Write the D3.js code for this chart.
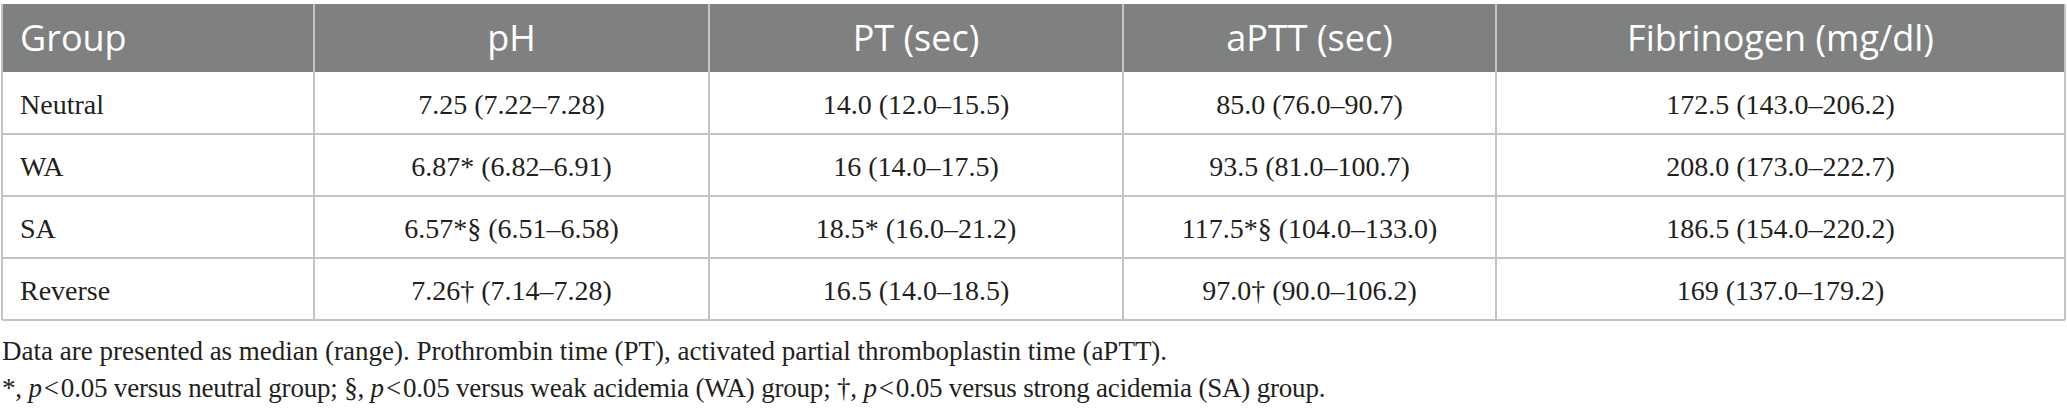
<!DOCTYPE html>
<html>
<head>
<meta charset="utf-8">
<script src="https://cdn.jsdelivr.net/npm/d3@7"></script>
<style>
  body { margin: 0; background: #fff; }
</style>
</head>
<body>
<div id="chart-area"></div>
<script>
// table content
var headers = ["Group", "pH", "PT (sec)", "aPTT (sec)", "Fibrinogen (mg/dl)"];
var groups = ["Neutral", "WA", "SA", "Reverse"];
var phValues = ["7.25 (7.22–7.28)", "6.87* (6.82–6.91)", "6.57*§ (6.51–6.58)", "7.26† (7.14–7.28)"];
var ptValues = ["14.0 (12.0–15.5)", "16 (14.0–17.5)", "18.5* (16.0–21.2)", "16.5 (14.0–18.5)"];
var apttValues = ["85.0 (76.0–90.7)", "93.5 (81.0–100.7)", "117.5*§ (104.0–133.0)", "97.0† (90.0–106.2)"];
var fibValues = ["172.5 (143.0–206.2)", "208.0 (173.0–222.7)", "186.5 (154.0–220.2)", "169 (137.0–179.2)"];
var note1 = "Data are presented as median (range). Prothrombin time (PT), activated partial thromboplastin time (aPTT).";

var width = 2067, height = 412;
var colEdges = [2, 314, 709, 1123, 1496, 2065];
var headTop = 4, headBottom = 72, tableBottom = 320;

var svg = d3.select("#chart-area")
    .append("svg")
        .attr("width", width)
        .attr("height", height);

// rows
var y = d3.scaleBand()
    .domain(groups)
    .range([headBottom, tableBottom]);

var rows = groups.map(function(g, i) {
    return [g, phValues[i], ptValues[i], apttValues[i], fibValues[i]];
});

var cellX = function(d, i){ return i == 0 ? colEdges[0] + 18 : (colEdges[i] + colEdges[i+1]) / 2; };
var cellAnchor = function(d, i){ return i == 0 ? "start" : "middle"; };

// header band
svg.append("rect")
    .attr("x", colEdges[0])
    .attr("y", headTop)
    .attr("width", colEdges[5] - colEdges[0])
    .attr("height", headBottom - headTop)
    .attr("fill", "#7f8080");

svg.selectAll(".head")
    .data(headers)
    .enter().append("text")
    .attr("class", "head")
    .attr("x", cellX)
    .attr("y", (headTop + headBottom) / 2)
    .attr("dy", "0.36em")
    .attr("text-anchor", cellAnchor)
    .attr("font-family", "'Open Sans', sans-serif")
    .attr("font-size", "36px")
    .attr("fill", "#fff")
    .text(function(d){ return d; });

// grid lines
var lineColor = "#c4c4c4";
svg.selectAll(".hline")
    .data(groups.slice(1).concat(["_end"]))
    .enter().append("line")
    .attr("x1", colEdges[0]).attr("x2", colEdges[5])
    .attr("y1", function(d){ return d == "_end" ? tableBottom : y(d); })
    .attr("y2", function(d){ return d == "_end" ? tableBottom : y(d); })
    .attr("stroke", lineColor)
    .attr("stroke-width", 2);

svg.selectAll(".vline")
    .data(colEdges)
    .enter().append("line")
    .attr("x1", function(d){ return d; }).attr("x2", function(d){ return d; })
    .attr("y1", headTop).attr("y2", tableBottom)
    .attr("stroke", lineColor)
    .attr("stroke-width", 2);

// cells
var rowG = svg.selectAll(".row")
    .data(rows)
    .enter().append("g")
    .attr("transform", function(d){ return "translate(0," + (y(d[0]) + y.bandwidth() / 2) + ")"; });

rowG.selectAll("text")
    .data(function(d){ return d; })
    .enter().append("text")
    .attr("x", cellX)
    .attr("dy", "0.38em")
    .attr("text-anchor", cellAnchor)
    .attr("font-family", "'Liberation Serif', serif")
    .attr("font-size", "28px")
    .attr("fill", "#231f20")
    .text(function(d){ return d; });

// footnotes
svg.append("text")
    .attr("x", 2)
    .attr("y", 360)
    .attr("font-family", "'Liberation Serif', serif")
    .attr("font-size", "27px")
    .attr("fill", "#231f20")
    .text(note1);

var note2 = svg.append("text")
    .attr("x", 2)
    .attr("y", 397)
    .attr("font-family", "'Liberation Serif', serif")
    .attr("font-size", "27px")
    .attr("letter-spacing", "-0.2px")
    .attr("fill", "#231f20");

var parts = [
    ["*, ", false], ["p", true], ["\u200A<\u200A0.05 versus neutral group; §, ", false],
    ["p", true], ["\u200A<\u200A0.05 versus weak acidemia (WA) group; †, ", false],
    ["p", true], ["\u200A<\u200A0.05 versus strong acidemia (SA) group.", false]
];
note2.selectAll("tspan")
    .data(parts)
    .enter().append("tspan")
    .attr("font-style", function(d){ return d[1] ? "italic" : "normal"; })
    .text(function(d){ return d[0]; });
</script>
</body>
</html>
